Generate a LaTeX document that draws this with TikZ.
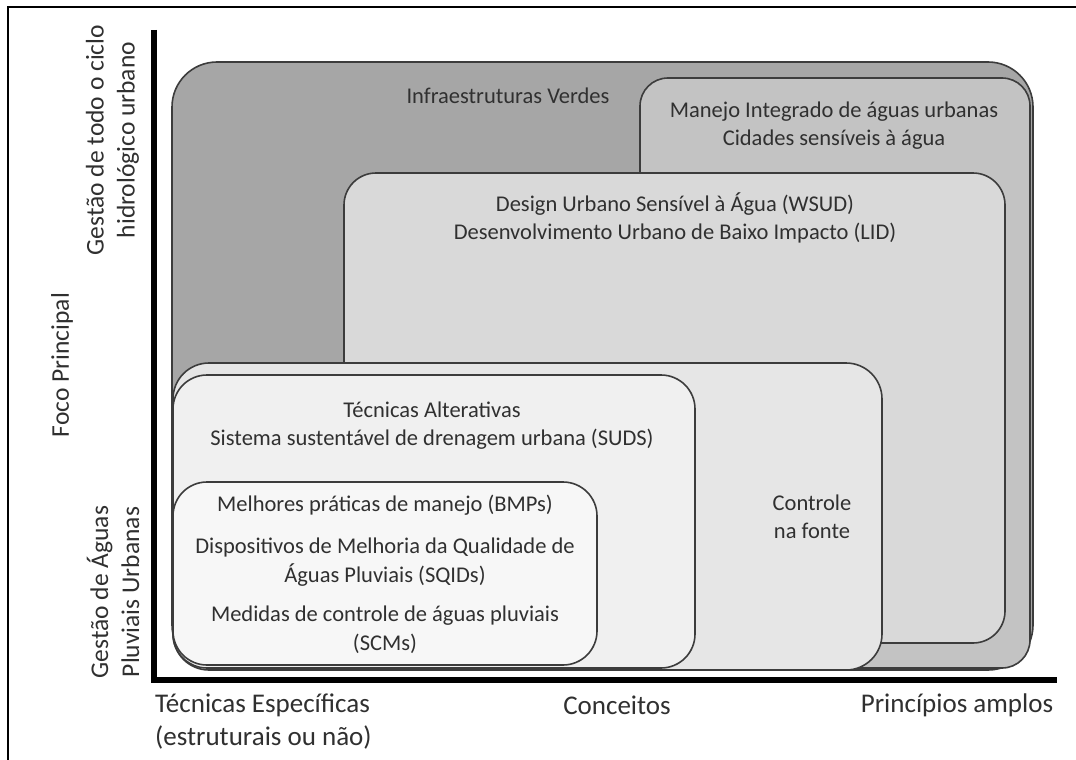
\documentclass[tikz,border=0pt]{standalone}
\usepackage{fontspec}
\setmainfont{Carlito}
\definecolor{cOuter}{HTML}{A6A6A6}
\definecolor{cManejo}{HTML}{C3C3C3}
\definecolor{cWsud}{HTML}{D9D9D9}
\definecolor{cCtrl}{HTML}{E6E6E6}
\definecolor{cSuds}{HTML}{F0F0F0}
\definecolor{cBmp}{HTML}{F7F7F7}
\definecolor{cBorder}{HTML}{3C3C3C}
\definecolor{cText}{HTML}{303030}
\begin{document}
\begin{tikzpicture}[x=1pt,y=-1pt,
  region/.style={draw=cBorder,line width=1.6pt,rounded corners=#1,inner sep=0pt,outer sep=0pt},
  boxtext/.style={text=cText,align=center,inner sep=0pt,font=\fontsize{22.5}{28}\selectfont},
  axistext/.style={text=cText,inner sep=0pt,font=\fontsize{27}{33}\selectfont},
  sidetext/.style={text=cText,align=center,inner sep=0pt,rotate=90,font=\fontsize{25.5}{31}\selectfont},
  axisline/.style={line width=5.5pt,black,line join=miter}]
\useasboundingbox (0,0) rectangle (1076,760);
\fill[white] (0,0) rectangle (1076,760);
% frame
\coordinate (fbl) at (8,760);
\coordinate (ftl) at (8,7);
\coordinate (ftr) at (1076,7);
\draw[black,line width=1.5pt] (fbl) -- (ftl) -- (ftr);
% regions
\node[region=45pt,fill=cOuter,minimum width=861pt,minimum height=608pt] (outer) at (602.5,366) {};
\node[region=28pt,fill=cManejo,minimum width=390pt,minimum height=590pt] (manejo) at (835,373) {};
\node[region=32pt,fill=cWsud,minimum width=661pt,minimum height=470pt] (wsud) at (674.5,408) {};
\node[region=36pt,fill=cCtrl,minimum width=709pt,minimum height=307pt] (ctrl) at (527.5,516.5) {};
\node[region=34pt,fill=cSuds,minimum width=522pt,minimum height=293pt] (suds) at (434,521.5) {};
\node[region=34pt,fill=cBmp,minimum width=424pt,minimum height=183pt] (bmp) at (385,573.5) {};
% box texts
\node[boxtext] (tinfra) at (508,96) {Infraestruturas Verdes};
\node[boxtext] (tmanejo) at (834,125.5) {Manejo Integrado de águas urbanas\\Cidades sensíveis à água};
\node[boxtext] (twsud) at (675,218) {Design Urbano Sensível à Água (WSUD)\\Desenvolvimento Urbano de Baixo Impacto (LID)};
\node[boxtext] (tsuds) at (432,426) {Técnicas Alterativas\\Sistema sustentável de drenagem urbana (SUDS)};
\node[boxtext] (tctrl) at (812,516.5) {Controle\\na fonte};
\node[boxtext] (tbmp1) at (385,505) {Melhores práticas de manejo (BMPs)};
\node[boxtext,font=\fontsize{22.5}{29}\selectfont] (tbmp2) at (385,562.5) {Dispositivos de Melhoria da Qualidade de\\Águas Pluviais (SQIDs)};
\node[boxtext,font=\fontsize{22.5}{29}\selectfont] (tbmp3) at (385,629.5) {Medidas de controle de águas pluviais\\(SCMs)};
% axes
\coordinate (ytop) at (154,30);
\coordinate (orig) at (154,680);
\coordinate (xend) at (1057,680);
\draw[axisline] (ytop) -- (orig) -- (xend);
% axis labels
\node[axistext,anchor=west,align=left] (xl1) at (155,721.5) {Técnicas Específicas\\(estruturais ou não)};
\node[axistext] (xl2) at (617,705) {Conceitos};
\node[axistext] (xl3) at (957,705) {Princípios amplos};
\node[sidetext] (yl1) at (112.5,140) {Gestão de todo o ciclo\\hidrológico urbano};
\node[sidetext] (yl2) at (113,592) {Gestão de Águas\\Pluviais Urbanas};
\node[sidetext] (yl3) at (62,365) {Foco Principal};
\end{tikzpicture}
\end{document}
